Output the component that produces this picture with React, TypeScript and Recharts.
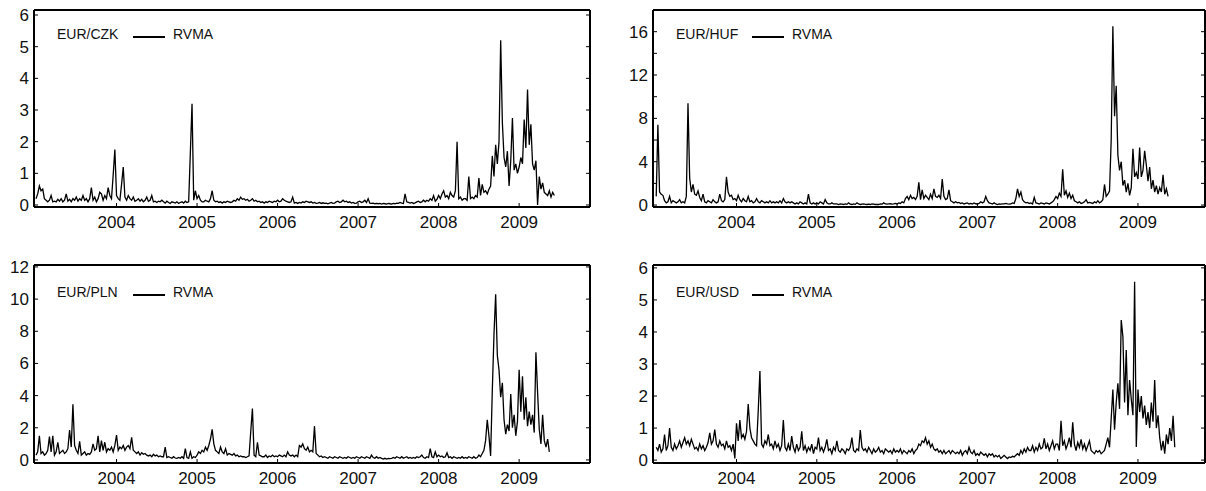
import { LineChart, Line, XAxis, YAxis, Legend } from "recharts";

// Realized volatility (RVMA) per currency pair, four readings per month from Jan 2003
const START = 2003;
const PER_YEAR = 48;
const YEAR_TICKS = [2004, 2005, 2006, 2007, 2008, 2009];
const FONT = "'Liberation Sans', Arial, Helvetica, sans-serif";

const czk2003 = [0.2,0.35,0.6,0.45, 0.5,0.2,0.15,0.1, 0.15,0.3,0.1,0.12, 0.1,0.18,0.12,0.2, 0.1,0.15,0.35,0.12, 0.18,0.1,0.2,0.15, 0.25,0.12,0.2,0.15, 0.3,0.15,0.2,0.1, 0.2,0.55,0.15,0.25, 0.1,0.2,0.4,0.35, 0.15,0.3,0.2,0.55, 0.3,0.2,0.95,1.75];
const czk2004 = [0.3,0.2,0.15,0.65, 1.2,0.25,0.15,0.3, 0.2,0.15,0.25,0.12, 0.15,0.2,0.12,0.18, 0.1,0.15,0.25,0.12, 0.15,0.3,0.1,0.12, 0.08,0.12,0.1,0.15, 0.1,0.06,0.12,0.08, 0.05,0.1,0.08,0.06, 0.1,0.05,0.08,0.1, 0.06,0.12,0.08,0.1, 1.65,3.2,0.15,0.45];
const czk2005 = [0.2,0.3,0.15,0.1, 0.1,0.15,0.12,0.1, 0.2,0.45,0.15,0.1, 0.12,0.08,0.1,0.06, 0.1,0.08,0.12,0.1, 0.08,0.1,0.15,0.12, 0.2,0.15,0.25,0.18, 0.2,0.15,0.18,0.12, 0.15,0.2,0.12,0.15, 0.1,0.12,0.08,0.1, 0.06,0.1,0.08,0.12, 0.1,0.08,0.12,0.1];
const czk2006 = [0.15,0.1,0.12,0.2, 0.15,0.12,0.1,0.08, 0.1,0.25,0.06,0.08, 0.05,0.08,0.06,0.1, 0.08,0.12,0.1,0.08, 0.1,0.06,0.08,0.05, 0.06,0.08,0.05,0.07, 0.05,0.06,0.04,0.06, 0.08,0.05,0.06,0.1, 0.12,0.08,0.1,0.15, 0.1,0.12,0.08,0.1, 0.06,0.08,0.05,0.06];
const czk2007 = [0.1,0.12,0.08,0.1, 0.15,0.08,0.2,0.06, 0.05,0.06,0.04,0.05, 0.04,0.05,0.03,0.05, 0.04,0.03,0.05,0.04, 0.03,0.05,0.04,0.06, 0.05,0.08,0.06,0.05, 0.35,0.1,0.08,0.06, 0.08,0.05,0.07,0.1, 0.12,0.08,0.1,0.15, 0.1,0.15,0.12,0.2, 0.15,0.3,0.12,0.18];
const czk2008 = [0.3,0.2,0.35,0.45, 0.25,0.3,0.2,0.4, 0.3,0.25,0.45,2.0, 0.2,0.25,0.15,0.2, 0.2,0.15,0.9,0.2, 0.25,0.2,0.3,0.25, 0.85,0.3,0.65,0.4, 0.45,0.35,0.5,0.6, 1.55,0.9,1.9,1.3, 2.0,5.2,2.6,1.5, 1.2,1.7,0.6,1.4, 2.75,1.1,1.3,1.0];
const czk2009 = [1.2,1.5,1.3,2.7, 1.8,3.65,1.9,2.55, 1.3,1.1,1.4,0.0, 0.9,0.5,0.7,0.4, 0.35,0.3,0.45,0.25, 0.4,0.3];

const huf2003 = [0.8,7.4,1.2,1.0, 0.9,0.4,0.2,0.3, 0.8,0.2,0.4,0.3, 0.2,0.3,0.5,0.2, 0.3,0.2,0.8,9.4, 2.5,1.2,1.9,1.0, 0.9,1.3,0.7,0.4, 1.0,0.3,0.2,0.4, 0.3,0.2,0.5,0.3, 0.2,0.3,1.0,0.4, 0.3,0.5,2.6,1.2, 0.8,0.9,0.5,0.6];
const huf2004 = [0.4,0.9,0.5,0.3, 0.6,0.4,0.3,0.8, 0.3,0.4,0.2,0.3, 0.6,0.3,0.2,0.4, 0.3,0.2,0.3,0.2, 0.4,0.2,0.3,0.2, 0.3,0.2,0.4,0.2, 0.6,0.3,0.2,0.3, 0.2,0.3,0.2,0.1, 0.2,0.1,0.3,0.2, 0.1,0.2,0.1,1.0, 0.2,0.1,0.2,0.1];
const huf2005 = [0.2,0.1,0.3,0.2, 0.1,0.5,0.2,0.1, 0.1,0.2,0.1,0.1, 0.1,0.05,0.1,0.08, 0.05,0.1,0.06,0.2, 0.08,0.05,0.1,0.06, 0.2,0.1,0.05,0.08, 0.1,0.06,0.05,0.08, 0.05,0.1,0.08,0.05, 0.06,0.05,0.1,0.08, 0.2,0.1,0.08,0.1, 0.12,0.08,0.1,0.15];
const huf2006 = [0.1,0.2,0.15,0.3, 0.2,0.6,0.8,0.5, 0.9,0.6,0.7,0.5, 0.8,2.1,0.5,1.4, 0.6,0.9,0.7,0.5, 1.0,0.6,1.5,0.8, 0.7,0.9,0.6,2.4, 0.8,0.5,0.6,1.4, 0.4,0.3,0.2,0.3, 0.2,0.25,0.15,0.2, 0.1,0.15,0.2,0.1, 0.15,0.1,0.2,0.12];
const huf2007 = [0.1,0.15,0.3,0.2, 0.3,0.8,0.4,0.2, 0.15,0.1,0.2,0.1, 0.05,0.1,0.08,0.1, 0.1,0.15,0.1,0.08, 0.1,0.2,0.15,0.6, 1.5,0.8,1.2,0.5, 0.3,0.2,0.25,0.15, 0.2,0.1,0.7,0.2, 0.15,0.1,0.2,0.15, 0.1,0.2,0.15,0.1, 0.2,0.3,0.5,0.8];
const huf2008 = [0.6,1.1,0.8,3.3, 0.9,1.3,0.7,1.1, 0.6,0.9,0.4,0.3, 0.2,0.3,0.15,0.2, 0.3,0.5,0.2,0.25, 0.2,0.15,0.3,0.2, 0.4,0.2,0.3,0.5, 1.9,0.8,1.0,1.3, 6.0,16.5,8.2,11.0, 4.6,3.2,4.0,1.8, 2.3,1.2,2.0,0.9, 1.6,5.2,2.6,3.0];
const huf2009 = [2.4,5.3,2.6,3.2, 5.0,3.7,2.2,3.5, 1.5,2.3,1.2,1.8, 1.0,1.6,1.2,2.8, 1.0,1.5,0.8];

const pln2003 = [0.3,0.5,1.5,0.4, 0.5,0.3,0.4,0.6, 1.45,0.5,1.5,0.3, 0.5,1.1,0.4,0.5, 0.6,0.4,0.5,0.7, 1.86,0.8,3.46,0.9, 0.6,0.4,1.15,0.3, 0.4,0.5,0.3,0.4, 0.35,0.5,1.0,0.6, 0.7,1.5,0.5,1.2, 0.6,1.1,0.5,0.7, 0.6,0.8,0.5,0.9];
const pln2004 = [1.55,0.6,0.8,0.7, 0.9,0.6,0.8,0.9, 0.7,1.4,0.6,0.5, 0.4,0.5,0.3,0.45, 0.35,0.4,0.3,0.25, 0.3,0.2,0.35,0.25, 0.3,0.2,0.25,0.2, 0.2,0.8,0.15,0.2, 0.15,0.1,0.2,0.12, 0.1,0.15,0.1,0.2, 0.1,0.7,0.15,0.1, 0.5,0.1,0.2,0.15];
const pln2005 = [0.3,0.5,0.4,0.6, 0.5,0.8,0.6,0.9, 1.3,1.9,1.0,0.6, 0.5,0.4,0.8,0.5, 0.4,0.7,0.3,0.4, 0.35,0.3,0.4,0.25, 0.3,0.2,0.25,0.2, 0.2,0.15,0.2,0.25, 1.75,3.2,0.3,0.2, 1.1,0.3,0.25,0.2, 0.2,0.3,0.15,0.25, 0.2,0.3,0.2,0.25];
const pln2006 = [0.2,0.3,0.25,0.2, 0.3,0.2,0.5,0.3, 0.25,0.3,0.2,0.3, 0.2,0.9,0.8,1.0, 0.7,0.6,0.8,0.5, 0.6,0.5,2.1,0.4, 0.3,0.2,0.25,0.15, 0.2,0.15,0.1,0.2, 0.15,0.1,0.2,0.15, 0.1,0.2,0.15,0.1, 0.15,0.1,0.2,0.15, 0.1,0.15,0.1,0.2];
const pln2007 = [0.15,0.1,0.2,0.15, 0.1,0.2,0.15,0.1, 0.3,0.15,0.1,0.2, 0.1,0.15,0.1,0.05, 0.1,0.05,0.1,0.08, 0.1,0.15,0.1,0.2, 0.15,0.1,0.2,0.1, 0.15,0.2,0.1,0.15, 0.1,0.15,0.1,0.2, 0.15,0.2,0.3,0.15, 0.1,0.2,0.15,0.7, 0.2,0.15,0.5,0.2];
const pln2008 = [0.3,0.2,0.25,0.15, 0.2,0.45,0.15,0.2, 0.1,0.2,0.15,0.1, 0.15,0.1,0.2,0.1, 0.15,0.1,0.2,0.15, 0.1,0.2,0.1,0.15, 0.3,0.2,0.4,0.6, 1.2,2.5,1.5,0.25, 4.3,7.8,10.3,6.5, 5.6,3.9,4.8,2.5, 1.6,2.2,1.8,4.1, 2.0,2.8,1.5,2.4];
const pln2009 = [5.6,3.0,5.2,2.5, 3.9,2.1,3.0,2.2, 2.8,1.7,6.7,4.2, 1.9,1.0,2.8,1.2, 0.8,1.3,0.5];

const usd2003 = [0.4,0.3,0.5,0.25, 0.35,0.8,0.3,0.45, 1.0,0.4,0.3,0.5, 0.35,0.45,0.6,0.4, 0.55,0.7,0.5,0.6, 0.45,0.65,0.5,0.35, 0.4,0.3,0.5,0.35, 0.45,0.3,0.4,0.55, 0.85,0.5,0.6,0.95, 0.5,0.4,0.6,0.45, 0.5,0.35,0.6,0.4, 0.45,0.3,0.5,0.05];
const usd2004 = [1.15,0.6,1.25,0.7, 0.8,0.65,0.9,1.75, 1.0,0.7,0.6,0.5, 0.45,1.55,2.78,0.5, 0.4,0.6,0.5,0.8, 0.45,0.5,0.35,0.6, 0.4,0.5,0.3,0.45, 1.25,0.4,0.3,0.5, 0.3,0.75,0.4,0.25, 0.5,0.3,0.4,0.9, 0.3,0.45,0.25,0.4, 0.3,0.5,0.2,0.4];
const usd2005 = [0.35,0.7,0.3,0.4, 0.25,0.4,0.65,0.3, 0.35,0.2,0.4,0.3, 0.6,0.3,0.25,0.35, 0.3,0.2,0.35,0.3, 0.4,0.7,0.3,0.25, 0.35,0.3,0.94,0.4, 0.3,0.35,0.25,0.4, 0.3,0.2,0.35,0.25, 0.3,0.4,0.25,0.3, 0.2,0.35,0.3,0.25, 0.3,0.2,0.35,0.25];
const usd2006 = [0.3,0.25,0.35,0.2, 0.3,0.25,0.2,0.3, 0.25,0.35,0.2,0.3, 0.35,0.5,0.45,0.6, 0.55,0.7,0.5,0.6, 0.4,0.5,0.35,0.3, 0.35,0.25,0.3,0.2, 0.3,0.2,0.25,0.3, 0.2,0.3,0.25,0.2, 0.25,0.2,0.3,0.15, 0.25,0.3,0.2,0.4, 0.25,0.2,0.3,0.15];
const usd2007 = [0.2,0.15,0.25,0.2, 0.15,0.2,0.1,0.2, 0.15,0.2,0.1,0.15, 0.1,0.15,0.05,0.1, 0.15,0.1,0.05,0.1, 0.08,0.12,0.1,0.15, 0.2,0.15,0.3,0.2, 0.35,0.25,0.4,0.3, 0.3,0.45,0.25,0.4, 0.3,0.5,0.35,0.4, 0.68,0.35,0.5,0.3, 0.45,0.6,0.35,0.5];
const usd2008 = [0.5,0.3,1.23,0.45, 0.6,0.35,0.5,0.7, 0.4,1.18,0.5,0.3, 0.55,0.4,0.65,0.35, 0.5,0.3,0.45,0.6, 0.3,0.25,0.2,0.3, 0.25,0.3,0.2,0.25, 0.3,0.5,0.7,0.4, 1.3,2.2,0.95,1.8, 2.4,1.6,4.37,3.85, 1.8,3.44,1.4,2.5, 1.9,1.4,5.57,0.41];
const usd2009 = [2.2,1.5,2.0,1.3, 1.7,1.1,1.5,1.0, 1.8,1.2,2.5,1.0, 1.4,0.7,0.3,0.6, 0.2,0.8,0.5,1.0, 0.6,1.38,0.4];

const toRows = (years: number[][]) =>
  years.flat().map((v, i) => ({ t: START + i / PER_YEAR, v }));

const czkRows = toRows([czk2003, czk2004, czk2005, czk2006, czk2007, czk2008, czk2009]);
const hufRows = toRows([huf2003, huf2004, huf2005, huf2006, huf2007, huf2008, huf2009]);
const plnRows = toRows([pln2003, pln2004, pln2005, pln2006, pln2007, pln2008, pln2009]);
const usdRows = toRows([usd2003, usd2004, usd2005, usd2006, usd2007, usd2008, usd2009]);

type PanelProps = {
  name: string;
  rows: { t: number; v: number }[];
  yDomain: [number, number];
  yTicks: number[];
  labelEvery: number;
  xDomain: [number, number];
  left: number;
  top: number;
  width: number;
  height: number;
  margin: { top: number; right: number; bottom: number; left: number };
  legendTop: number;
};

const frame = { stroke: "#000", strokeWidth: 2 };
const tickText = { fontSize: 17, fill: "#111", fontFamily: FONT };

function Panel(p: PanelProps) {
  const legend = () => (
    <div style={{ display: "flex", alignItems: "center", fontFamily: FONT, fontSize: 14, color: "#111", whiteSpace: "nowrap", lineHeight: "16px" }}>
      <span style={{ width: 76 }}>{p.name}</span>
      <span style={{ display: "inline-block", width: 32, borderTop: "2px solid #000", marginTop: 5, marginRight: 8 }} />
      <span>RVMA</span>
    </div>
  );
  return (
    <div style={{ position: "absolute", left: p.left, top: p.top }}>
      <LineChart width={p.width} height={p.height} data={p.rows} margin={p.margin}>
        <XAxis
          dataKey="t" type="number" domain={p.xDomain} allowDataOverflow
          ticks={YEAR_TICKS} interval={0} height={28}
          tickSize={-4} tickMargin={13} tickFormatter={(v) => String(v)}
          axisLine={frame} tickLine={{ stroke: "#000" }} tick={tickText}
        />
        {/* top and right axes only draw the closing frame and the inner ticks */}
        <XAxis
          xAxisId="top" orientation="top" dataKey="t" type="number" domain={p.xDomain}
          allowDataOverflow height={1} tick={false} tickLine={false} axisLine={frame}
        />
        <YAxis
          type="number" domain={p.yDomain} allowDataOverflow ticks={p.yTicks} interval={0}
          width={34} tickSize={-4} tickMargin={9}
          tickFormatter={(v) => (v % p.labelEvery === 0 ? String(v) : "")}
          axisLine={frame} tickLine={{ stroke: "#000" }} tick={tickText}
        />
        <YAxis
          yAxisId="r" orientation="right" type="number" domain={p.yDomain} allowDataOverflow
          ticks={p.yTicks} interval={0} width={1} tickSize={-4} tickFormatter={() => ""}
          axisLine={frame} tickLine={{ stroke: "#000" }}
        />
        <Legend
          content={legend} layout="horizontal" verticalAlign="middle" align="center"
          wrapperStyle={{ left: 57, top: p.legendTop, width: "auto", height: "auto" }}
        />
        <Line xAxisId="top" yAxisId="r" type="linear" dataKey="v" stroke="none" dot={false} activeDot={false} legendType="none" isAnimationActive={false} />
        <Line type="linear" dataKey="v" stroke="#000" strokeWidth={1.3} dot={false} isAnimationActive={false} />
      </LineChart>
    </div>
  );
}

const leftX: [number, number] = [2002.975, 2009.88];
const rightX: [number, number] = [2002.96, 2009.835];
const topMarginL = { top: 9, right: 9, bottom: 5, left: 0 };
const topMarginR = { top: 9, right: 0, bottom: 5, left: 0 };
const botMarginL = { top: 10, right: 9, bottom: 0, left: 0 };
const botMarginR = { top: 10, right: 0, bottom: 0, left: 0 };

export default function App() {
  return (
    <div style={{ position: "absolute", left: 0, top: 0, width: 1206, height: 491, overflow: "hidden", background: "#fff" }}>
      <Panel name="EUR/CZK" rows={czkRows} yDomain={[-0.063, 6.158]} yTicks={[0, 1, 2, 3, 4, 5, 6]} labelEvery={1}
        xDomain={leftX} left={0} top={0} width={600} height={240} margin={topMarginL} legendTop={26} />
      <Panel name="EUR/HUF" rows={hufRows} yDomain={[-0.18, 18]} yTicks={[0, 2, 4, 6, 8, 10, 12, 14, 16]} labelEvery={4}
        xDomain={rightX} left={619} top={0} width={587} height={240} margin={topMarginR} legendTop={26} />
      <Panel name="EUR/PLN" rows={plnRows} yDomain={[-0.19, 12.12]} yTicks={[0, 2, 4, 6, 8, 10, 12]} labelEvery={2}
        xDomain={leftX} left={0} top={254} width={600} height={237} margin={botMarginL} legendTop={30} />
      <Panel name="EUR/USD" rows={usdRows} yDomain={[-0.09, 6.09]} yTicks={[0, 1, 2, 3, 4, 5, 6]} labelEvery={1}
        xDomain={rightX} left={619} top={254} width={587} height={237} margin={botMarginR} legendTop={30} />
    </div>
  );
}
